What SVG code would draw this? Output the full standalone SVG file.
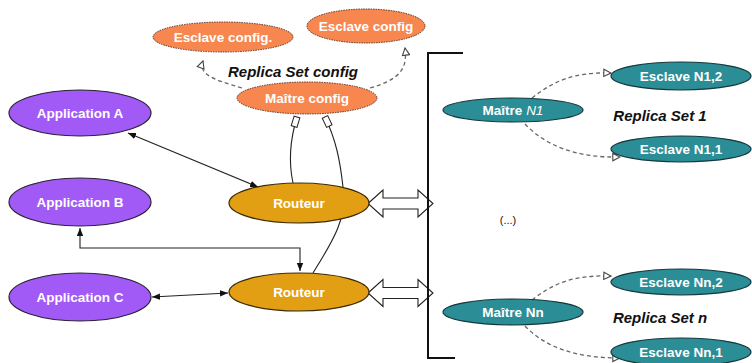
<svg xmlns="http://www.w3.org/2000/svg" width="752" height="363" viewBox="0 0 752 363">
<defs>
<style>
.app{fill:#a15af5;stroke:#2b2233;stroke-width:1.2}
.cfg{fill:#f7874f;stroke:#5a3020;stroke-width:1;stroke-dasharray:1.5 1}
.rt{fill:#e39f13;stroke:#3a2a05;stroke-width:1.2}
.rs{fill:#2b8d96;stroke:#14383c;stroke-width:1.2}
.lbl{font-family:"Liberation Sans",Arial,sans-serif;font-weight:bold;font-size:13.5px;fill:#fff;text-anchor:middle}
.cap{font-family:"Liberation Sans",Arial,sans-serif;font-weight:bold;font-style:italic;font-size:15px;fill:#111;text-anchor:middle}
.solid{fill:none;stroke:#222;stroke-width:1.1}
.dash{fill:none;stroke:#666;stroke-width:1.3;stroke-dasharray:4 3}
.block{fill:#fff;stroke:#222;stroke-width:1.1}
</style>
<marker id="ah" viewBox="0 0 10 10" refX="10" refY="5" markerWidth="8" markerHeight="8" orient="auto-start-reverse" markerUnits="userSpaceOnUse">
<path d="M0,1 L10,5 L0,9 Z" fill="#111"/>
</marker>
<marker id="open" viewBox="0 0 10 10" refX="9" refY="5" markerWidth="9" markerHeight="9" orient="auto" markerUnits="userSpaceOnUse">
<path d="M1,1 L9,5 L1,9 Z" fill="#fff" stroke="#444" stroke-width="1.2"/>
</marker>
<marker id="tee" viewBox="0 0 12 8" refX="11" refY="4" markerWidth="12" markerHeight="8" orient="auto" markerUnits="userSpaceOnUse">
<rect x="1" y="1" width="10" height="6" fill="#fff" stroke="#222" stroke-width="1"/>
</marker>
</defs>

<g id="connectors">
<path class="dash" d="M242,88 C215,80 198,75 203,61" marker-end="url(#open)"/>
<path class="dash" d="M370,88 C398,80 408,70 405,48" marker-end="url(#open)"/>
<path class="solid" d="M293,183 C288,160 290,140 297,117" marker-end="url(#tee)"/>
<path class="solid" d="M313,273 C330,245 348,220 343,187 C340,160 336,140 325,117" marker-end="url(#tee)"/>
<path class="solid" d="M128,133 L258,187" marker-start="url(#ah)" marker-end="url(#ah)"/>
<path class="solid" d="M80,228 L80,248 L300,248 L300,271" marker-start="url(#ah)" marker-end="url(#ah)"/>
<path class="solid" d="M152,297 L228,293" marker-start="url(#ah)" marker-end="url(#ah)"/>
<path class="block" d="M368,203.5 L383,190 L383,198 L418,198 L418,190 L433,203.5 L418,217 L418,209 L383,209 L383,217 Z"/>
<path class="block" d="M368,293 L383,279.5 L383,287.5 L418,287.5 L418,279.5 L433,293 L418,306.5 L418,298.5 L383,298.5 L383,306.5 Z"/>
<path d="M463,53 L428,53 L428,358 L455,358" fill="none" stroke="#111" stroke-width="2"/>
<path class="dash" d="M532,98 C555,80 575,72 611,73" marker-end="url(#open)"/>
<path class="dash" d="M525,124 C545,145 575,158 620,157" marker-end="url(#open)"/>
<path class="dash" d="M532,300 C555,282 575,275 611,276" marker-end="url(#open)"/>
<path class="dash" d="M525,326 C545,347 575,358 620,358" marker-end="url(#open)"/>
</g>

<g id="esclave-config-1"><ellipse class="cfg" cx="223" cy="37" rx="70" ry="15"/><text class="lbl" x="223" y="42">Esclave config.</text></g>
<g id="esclave-config-2"><ellipse class="cfg" cx="366" cy="26" rx="59" ry="17"/><text class="lbl" x="366" y="31">Esclave config</text></g>
<g id="maitre-config"><ellipse class="cfg" cx="307" cy="98" rx="70" ry="16"/><text class="lbl" x="307" y="103">Maître config</text></g>
<g id="label-rs-config"><text class="cap" x="293" y="77">Replica Set config</text></g>

<g id="app-a"><ellipse class="app" cx="80" cy="113" rx="71" ry="23"/><text class="lbl" x="80" y="118">Application A</text></g>
<g id="app-b"><ellipse class="app" cx="80" cy="202" rx="71" ry="24"/><text class="lbl" x="80" y="207">Application B</text></g>
<g id="app-c"><ellipse class="app" cx="80" cy="297" rx="71" ry="24"/><text class="lbl" x="80" y="302">Application C</text></g>

<g id="routeur-1"><ellipse class="rt" cx="299" cy="203" rx="70" ry="20"/><text class="lbl" x="299" y="208">Routeur</text></g>
<g id="routeur-2"><ellipse class="rt" cx="299" cy="292" rx="70" ry="19"/><text class="lbl" x="299" y="297">Routeur</text></g>

<g id="maitre-n1"><ellipse class="rs" cx="513" cy="110" rx="70" ry="12"/><text class="lbl" x="513" y="115">Maître <tspan font-style="italic" font-weight="normal">N1</tspan></text></g>
<g id="esclave-n12"><ellipse class="rs" cx="681" cy="76" rx="70" ry="14"/><text class="lbl" x="681" y="81">Esclave N1,2</text></g>
<g id="esclave-n11"><ellipse class="rs" cx="681" cy="149" rx="70" ry="13"/><text class="lbl" x="681" y="154">Esclave N1,1</text></g>
<g id="label-rs1"><text class="cap" x="660" y="121">Replica Set 1</text></g>

<g id="ellipsis"><text x="508" y="224" font-family="Liberation Sans,Arial,sans-serif" font-size="11" fill="#111" text-anchor="middle">(...)</text></g>

<g id="maitre-nn"><ellipse class="rs" cx="513" cy="312" rx="70" ry="13"/><text class="lbl" x="513" y="317">Maître Nn</text></g>
<g id="esclave-nn2"><ellipse class="rs" cx="681" cy="282" rx="70" ry="13"/><text class="lbl" x="681" y="287">Esclave Nn,2</text></g>
<g id="esclave-nn1"><ellipse class="rs" cx="681" cy="352" rx="70" ry="14"/><text class="lbl" x="681" y="357">Esclave Nn,1</text></g>
<g id="label-rsn"><text class="cap" x="660" y="323">Replica Set n</text></g>
</svg>
